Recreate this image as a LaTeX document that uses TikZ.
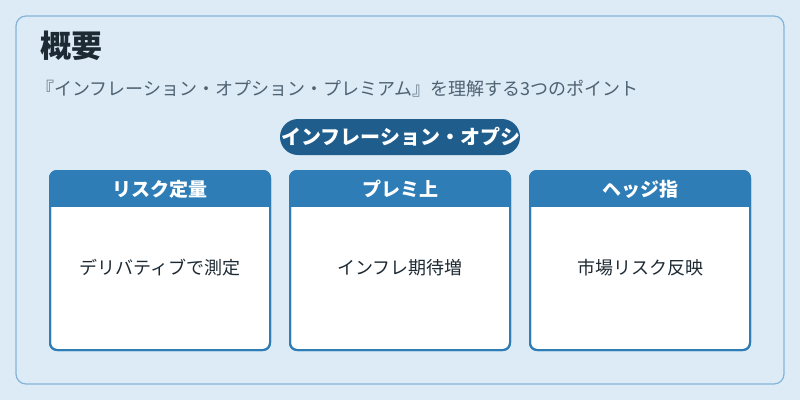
\documentclass[tikz,border=0pt]{standalone}
\usepackage{fontspec}
\setmainfont{Noto Sans CJK JP}
\begin{document}
\begin{tikzpicture}[x=1pt,y=-1pt,
  card/.style={draw=cardblue,line width=2pt,fill=white,rounded corners=7pt},
  head/.style={font=\fontsize{19}{22}\selectfont\bfseries,text=white},
  body/.style={font=\fontsize{18}{21}\selectfont,text=darktext}]
\definecolor{bg}{HTML}{DCEBF6}
\definecolor{cardblue}{HTML}{2E7DB6}
\definecolor{pill}{HTML}{1F5E8C}
\definecolor{outer}{HTML}{84B5D9}
\definecolor{darktext}{HTML}{1E2A33}
\definecolor{subtext}{HTML}{4F6272}
\useasboundingbox (0,0) rectangle (800,400);
\fill[bg] (0,0) rectangle (800,400);
\draw[outer,line width=1.2pt,rounded corners=10pt] (16,16) rectangle (784,384);
\node[anchor=west,font=\fontsize{31}{36}\selectfont\bfseries,text=darktext,inner sep=0pt] (t) at (40,46) {概要};
\node[anchor=west,font=\fontsize{18}{21}\selectfont,text=subtext,inner sep=0pt] (s) at (36,89) {『インフレーション・オプション・プレミアム』を理解する3つのポイント};
\fill[pill,rounded corners=18pt] (280,119) rectangle (520,155);
\begin{scope}
\clip (280,119) rectangle (520,155);
\node[font=\fontsize{20}{23}\selectfont\bfseries,text=white,anchor=west,inner sep=0pt] (p) at (281,137) {インフレーション・オプション・プレミアム};
\end{scope}
\foreach \x/\h/\b/\n in {50/リスク定量/デリバティブで測定/a,290/プレミ上/インフレ期待増/b,530/ヘッジ指/市場リスク反映/c}{
  \draw[card] (\x,171) rectangle ++(220,179);
  \begin{scope}
  \clip[rounded corners=7pt] (\x,171) rectangle ++(220,179);
  \fill[cardblue] (\x,171) rectangle ++(220,36);
  \end{scope}
  \draw[cardblue,line width=2pt,rounded corners=7pt] (\x,171) rectangle ++(220,179);
  \node[head] (h\n) at (\x+110,189) {\h};
  \node[body] (b\n) at (\x+110,268) {\b};
}
\end{tikzpicture}
\end{document}
